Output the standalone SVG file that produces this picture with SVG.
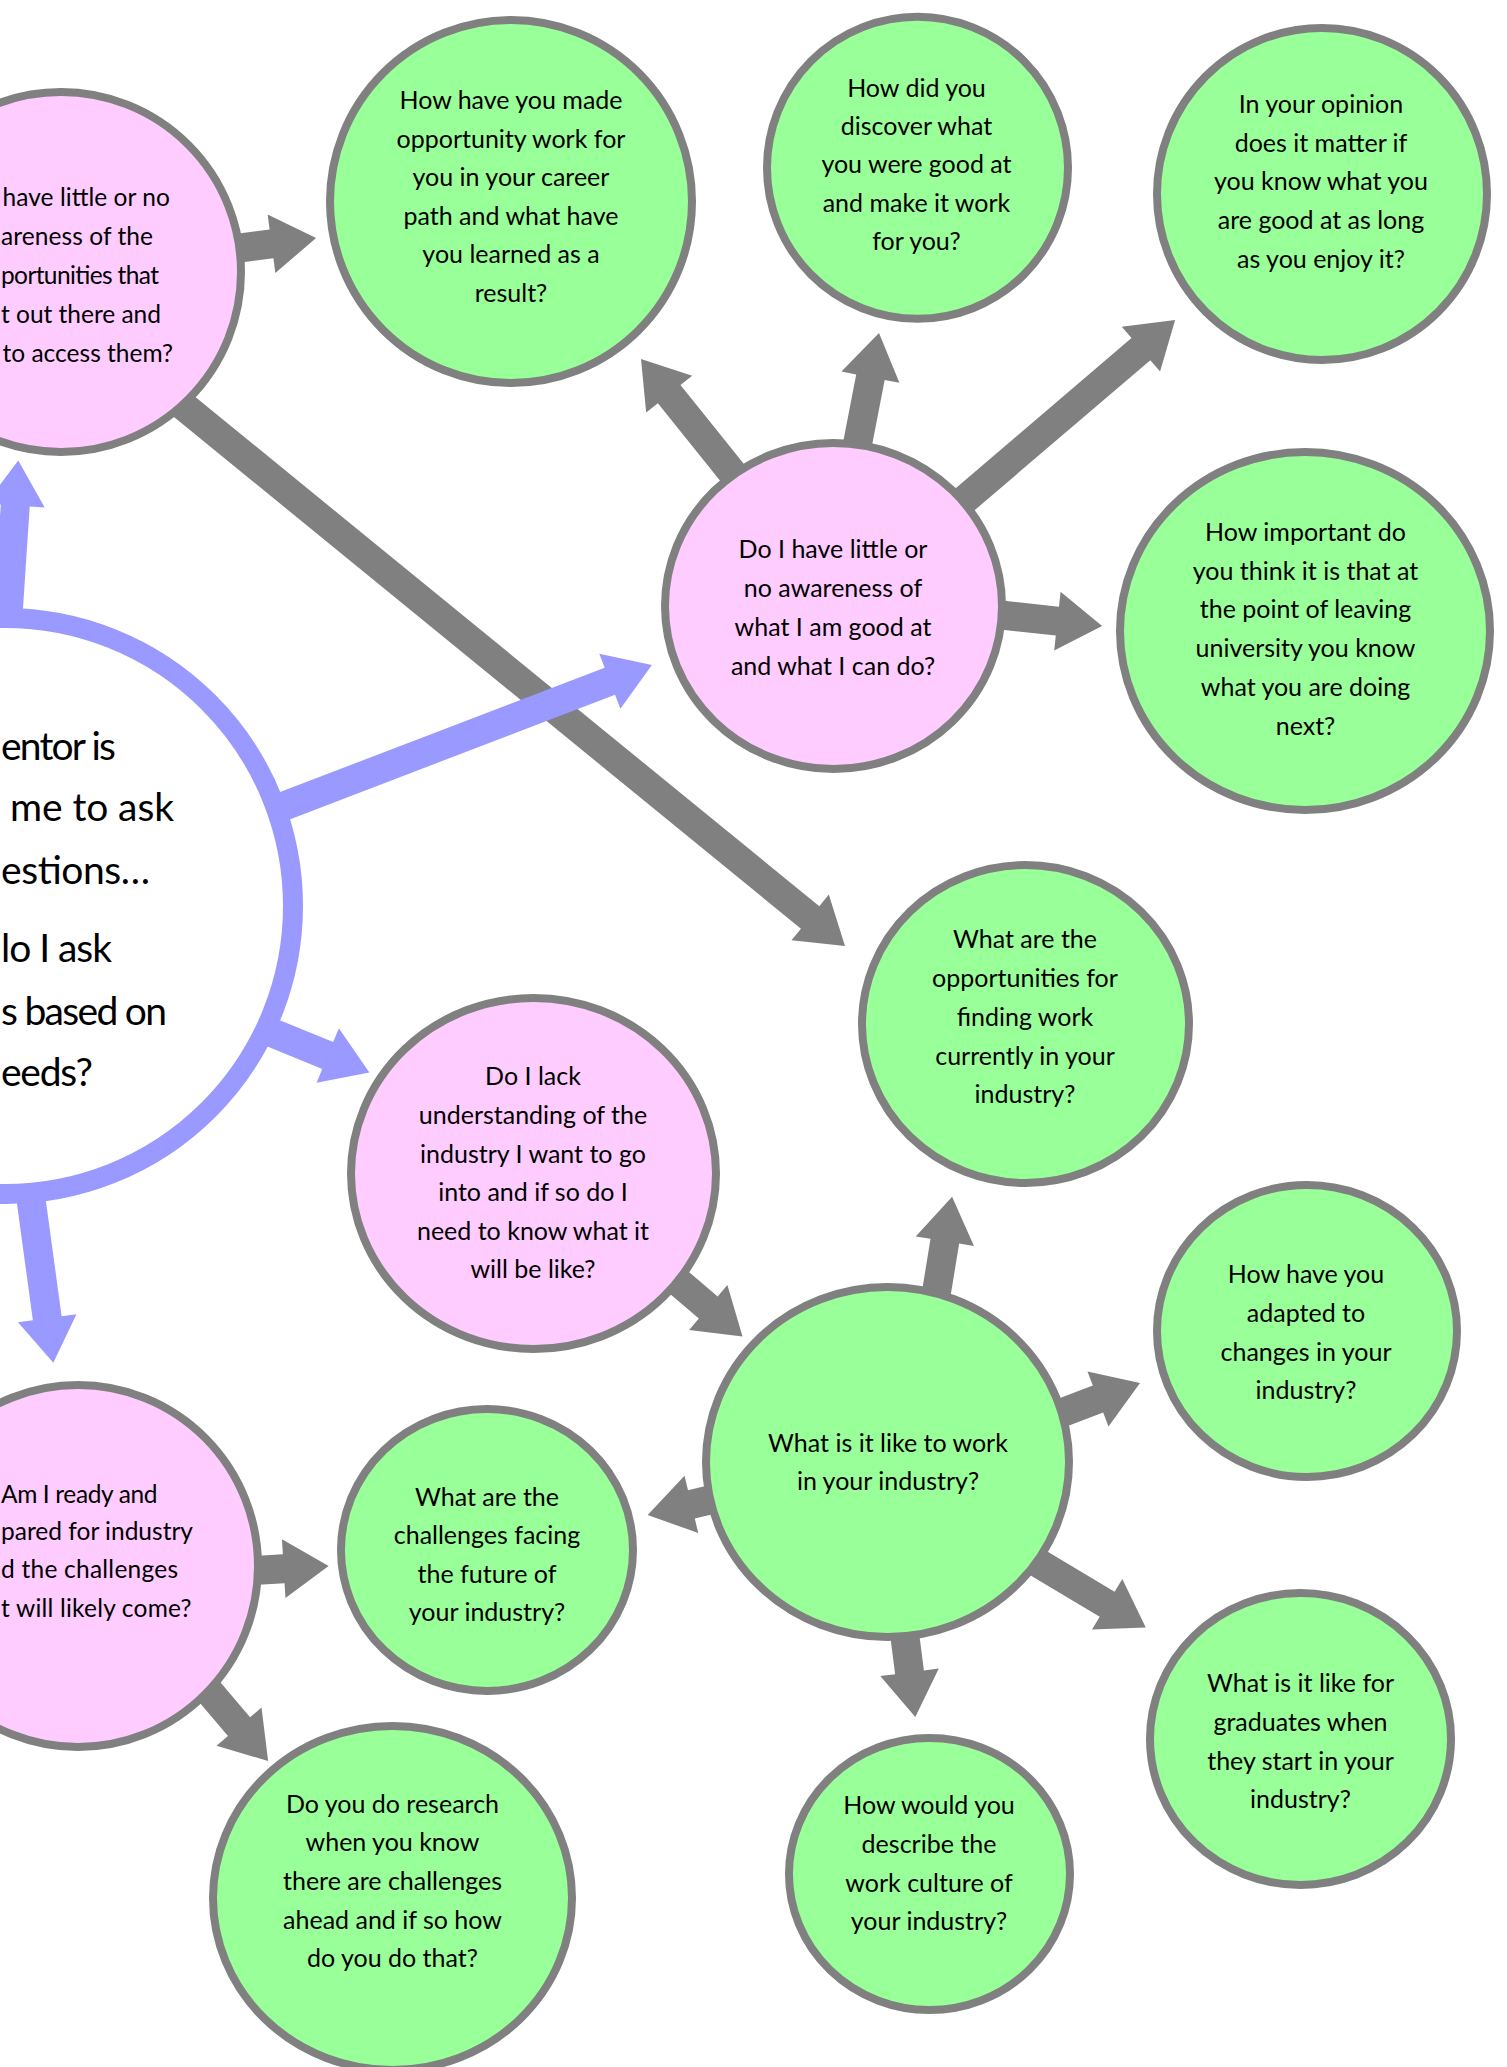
<svg xmlns="http://www.w3.org/2000/svg" width="1507" height="2067" viewBox="0 0 1507 2067">
<style>
.pink{fill:#ffccff;stroke:#808080;stroke-width:8}
.green{fill:#99ff99;stroke:#808080;stroke-width:8}
.hub{fill:#ffffff;stroke:#9999ff;stroke-width:20}
.g{fill:#808080}
.b{fill:#9999ff}
text{font-family:Lato,"Open Sans",sans-serif;font-size:25px;fill:#000000;text-anchor:middle}
text.st{text-anchor:start;font-size:24.5px}
text.big{font-size:39px}
</style>
<defs>
<polygon id="a130" points="0,-14.5 85,-14.5 85,-29.5 130,0 85,29.5 85,14.5 0,14.5"/>
<polygon id="a150" points="0,-14.5 105,-14.5 105,-29.5 150,0 105,29.5 105,14.5 0,14.5"/>
<polygon id="a170" points="0,-14.5 125,-14.5 125,-29.5 170,0 125,29.5 125,14.5 0,14.5"/>
<polygon id="a200" points="0,-14.5 155,-14.5 155,-29.5 200,0 155,29.5 155,14.5 0,14.5"/>
<polygon id="a330" points="0,-14.5 285,-14.5 285,-29.5 330,0 285,29.5 285,14.5 0,14.5"/>
<polygon id="a420" points="0,-14.5 375,-14.5 375,-29.5 420,0 375,29.5 375,14.5 0,14.5"/>
<polygon id="a889" points="0,-14.5 843.7,-14.5 843.7,-29.5 888.7,0 843.7,29.5 843.7,14.5 0,14.5"/>
</defs>
<rect x="0" y="0" width="1507" height="2067" fill="#ffffff"/>
<g id="connectors">
<use href="#a150" class="g" transform="translate(167.4,257.5) rotate(-7.5)"/>
<use href="#a889" class="g" transform="translate(156.5,384) rotate(39.22)"/>
<use href="#a200" class="g" transform="translate(766.2,515) rotate(-128.75)"/>
<use href="#a150" class="g" transform="translate(850.5,480.3) rotate(-79.05)"/>
<use href="#a330" class="g" transform="translate(924.2,534.2) rotate(-40.5)"/>
<use href="#a150" class="g" transform="translate(953,609.8) rotate(6.2)"/>
<use href="#a150" class="g" transform="translate(628.3,1239.4) rotate(40.4)"/>
<use href="#a130" class="g" transform="translate(931.1,1325.1) rotate(-80.7)"/>
<use href="#a150" class="g" transform="translate(999.9,1436.4) rotate(-20.9)"/>
<use href="#a150" class="g" transform="translate(793.5,1479.9) rotate(166.5)"/>
<use href="#a170" class="g" transform="translate(999.9,1540.1) rotate(30.9)"/>
<use href="#a150" class="g" transform="translate(896.1,1568.2) rotate(82.65)"/>
<use href="#a150" class="g" transform="translate(178.9,1574.9) rotate(-3.4)"/>
<use href="#a150" class="g" transform="translate(171.1,1646.6) rotate(49.7)"/>
<use href="#a200" class="b" transform="translate(5,660.1) rotate(-86.2)"/>
<use href="#a420" class="b" transform="translate(259.7,815.4) rotate(-20.97)"/>
<use href="#a150" class="b" transform="translate(230.5,1015.8) rotate(22.2)"/>
<use href="#a200" class="b" transform="translate(26.3,1164.7) rotate(82.24)"/>
</g>
<g id="hub">
<circle class="hub" cx="5" cy="906" r="288"/>
<text class="big st" x="1" y="760" textLength="115">entor is</text>
<text class="big st" x="10" y="821" textLength="164">me to ask</text>
<text class="big st" x="1" y="884" textLength="149">estions…</text>
<text class="big st" x="1" y="962" textLength="111">lo I ask</text>
<text class="big st" x="1" y="1025" textLength="166">s based on</text>
<text class="big st" x="1" y="1086" textLength="92">eeds?</text>
</g>
<g id="node-a">
<ellipse class="pink" cx="61" cy="272" rx="180" ry="180"/>
<text class="st" x="2.5" y="206" textLength="167.5">have little or no</text>
<text class="st" x="1" y="245" textLength="152">areness of the</text>
<text class="st" x="1" y="284" textLength="158">portunities that</text>
<text class="st" x="1" y="323" textLength="160">t out there and</text>
<text class="st" x="2.5" y="362" textLength="170.5">to access them?</text>
</g>
<g id="node-b">
<ellipse class="green" cx="511" cy="201.5" rx="181" ry="181.5"/>
<text x="511" y="109">How have you made</text>
<text x="511" y="148">opportunity work for</text>
<text x="511" y="186">you in your career</text>
<text x="511" y="225">path and what have</text>
<text x="511" y="263">you learned as a</text>
<text x="511" y="302">result?</text>
</g>
<g id="node-c">
<ellipse class="green" cx="917.5" cy="167.8" rx="150.5" ry="151"/>
<text x="916.5" y="97">How did you</text>
<text x="916.5" y="135">discover what</text>
<text x="916.5" y="173">you were good at</text>
<text x="916.5" y="212">and make it work</text>
<text x="916.5" y="250">for you?</text>
</g>
<g id="node-d">
<ellipse class="green" cx="1322" cy="194" rx="165" ry="166"/>
<text x="1321" y="113">In your opinion</text>
<text x="1321" y="152">does it matter if</text>
<text x="1321" y="190">you know what you</text>
<text x="1321" y="229">are good at as long</text>
<text x="1321" y="268">as you enjoy it?</text>
</g>
<g id="node-e">
<ellipse class="pink" cx="833.5" cy="606" rx="168.5" ry="163"/>
<text x="833" y="557.5">Do I have little or</text>
<text x="833" y="597">no awareness of</text>
<text x="833" y="636">what I am good at</text>
<text x="833" y="675">and what I can do?</text>
</g>
<g id="node-f">
<ellipse class="green" cx="1305" cy="631" rx="185" ry="179"/>
<text x="1305.5" y="541">How important do</text>
<text x="1305.5" y="579.5">you think it is that at</text>
<text x="1305.5" y="618">the point of leaving</text>
<text x="1305.5" y="657">university you know</text>
<text x="1305.5" y="696">what you are doing</text>
<text x="1305.5" y="735">next?</text>
</g>
<g id="node-g">
<ellipse class="green" cx="1025.5" cy="1024" rx="163.5" ry="159"/>
<text x="1025" y="948">What are the</text>
<text x="1025" y="987">opportunities for</text>
<text x="1025" y="1026">finding work</text>
<text x="1025" y="1065">currently in your</text>
<text x="1025" y="1103">industry?</text>
</g>
<g id="node-i">
<ellipse class="pink" cx="533.5" cy="1173.5" rx="182.5" ry="175.5"/>
<text x="533" y="1085">Do I lack</text>
<text x="533" y="1124">understanding of the</text>
<text x="533" y="1163">industry I want to go</text>
<text x="533" y="1201">into and if so do I</text>
<text x="533" y="1240">need to know what it</text>
<text x="533" y="1278">will be like?</text>
</g>
<g id="node-j">
<ellipse class="green" cx="887.5" cy="1462" rx="181.5" ry="175"/>
<text x="888" y="1452">What is it like to work</text>
<text x="888" y="1490">in your industry?</text>
</g>
<g id="node-k">
<ellipse class="green" cx="1307" cy="1331" rx="150" ry="146"/>
<text x="1306" y="1283">How have you</text>
<text x="1306" y="1322">adapted to</text>
<text x="1306" y="1361">changes in your</text>
<text x="1306" y="1399">industry?</text>
</g>
<g id="node-l">
<ellipse class="pink" cx="78" cy="1566" rx="180" ry="181"/>
<text class="st" x="1" y="1503" textLength="156.5">Am I ready and</text>
<text class="st" x="1" y="1539.5" textLength="192">pared for industry</text>
<text class="st" x="1" y="1578" textLength="177">d the challenges</text>
<text class="st" x="1" y="1617" textLength="190.5">t will likely come?</text>
</g>
<g id="node-m">
<ellipse class="green" cx="487" cy="1550" rx="146" ry="141"/>
<text x="487" y="1506">What are the</text>
<text x="487" y="1544">challenges facing</text>
<text x="487" y="1583">the future of</text>
<text x="487" y="1621">your industry?</text>
</g>
<g id="node-n">
<ellipse class="green" cx="392.5" cy="1898" rx="179.5" ry="172"/>
<text x="392.5" y="1813">Do you do research</text>
<text x="392.5" y="1851">when you know</text>
<text x="392.5" y="1890">there are challenges</text>
<text x="392.5" y="1929">ahead and if so how</text>
<text x="392.5" y="1967">do you do that?</text>
</g>
<g id="node-o">
<ellipse class="green" cx="929.5" cy="1874" rx="140.5" ry="136"/>
<text x="929" y="1814">How would you</text>
<text x="929" y="1853">describe the</text>
<text x="929" y="1892">work culture of</text>
<text x="929" y="1930">your industry?</text>
</g>
<g id="node-p">
<ellipse class="green" cx="1300.5" cy="1739" rx="150.5" ry="146"/>
<text x="1300.5" y="1692">What is it like for</text>
<text x="1300.5" y="1731">graduates when</text>
<text x="1300.5" y="1769.5">they start in your</text>
<text x="1300.5" y="1808">industry?</text>
</g>
</svg>
